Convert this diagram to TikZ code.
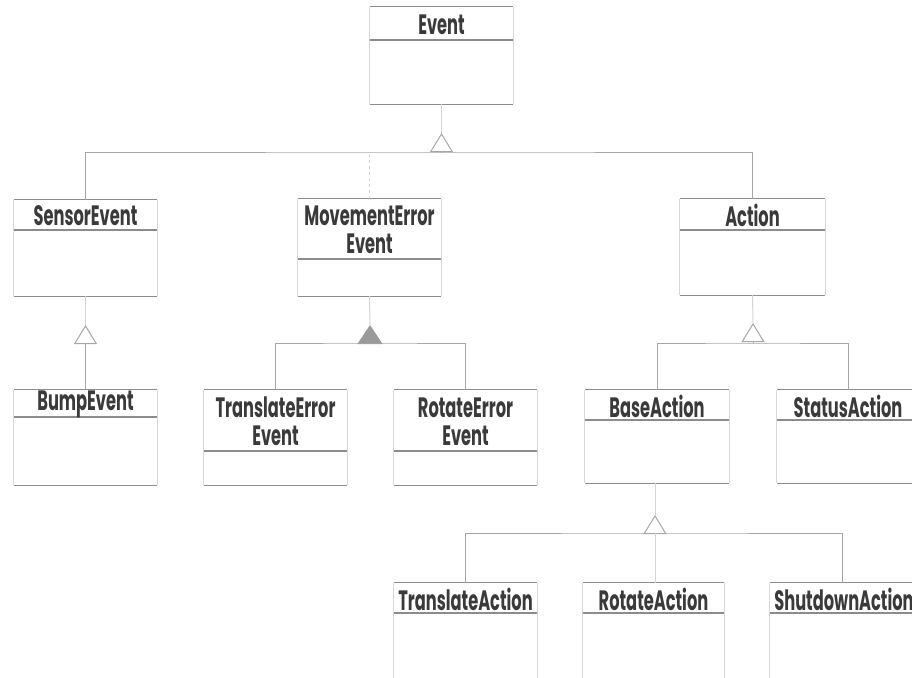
\documentclass[tikz,border=0pt]{standalone}
\usepackage{fontspec}
\setmainfont{Poppins}[FakeStretch=0.58]
\usetikzlibrary{arrows.meta,fit}

\definecolor{rule}{HTML}{8C8C8C}
\definecolor{side}{HTML}{D8D8D8}
\definecolor{wire}{HTML}{A6A6A6}
\definecolor{faintwire}{HTML}{D4D4D4}
\definecolor{ink}{HTML}{3A3A3A}
\definecolor{headfill}{HTML}{9A9A9A}

\tikzset{
  hrule/.style={draw=rule, line width=1.2pt},
  vside/.style={draw=side, line width=0.9pt},
  frame/.style={inner sep=0pt, draw=none},
  classname/.style={font=\fontsize{28}{28}\selectfont\bfseries, text=ink,
                    align=center, inner sep=0pt},
  wireline/.style={draw=wire, line width=1pt},
  faintline/.style={draw=faintwire, line width=1pt},
  inherit/.style={wireline, -{Triangle[open, length=19pt, width=23pt, line width=1pt]}},
  inheritfill/.style={wireline, -{Triangle[length=19pt, width=25pt, fill=headfill, color=headfill]}},
}

% class box: name, left x, right x, top y, separator y, bottom y, title
\newcommand{\umlclass}[7]{%
  \node[frame, fit={(#2,#4) (#3,#6)}] (#1) {};
  \draw[vside] (#1.north west) -- (#1.south west);
  \draw[vside] (#1.north east) -- (#1.south east);
  \draw[hrule] (#1.north west) -- (#1.north east);
  \draw[hrule] (#1.south west) -- (#1.south east);
  \draw[hrule] (#2,#5) -- (#3,#5);
  \node[classname] (#1-title) at ({(#2+#3)/2},{(#4+#5)/2+1}) {#7};
}

\begin{document}
\begin{tikzpicture}[x=1pt, y=-1pt]
  \useasboundingbox (0,0) rectangle (912,677);
  \clip (0,0) rectangle (912,677);

  % classes
  \umlclass{event}{370}{513}{7}{40}{104}{Event}
  \umlclass{sensor}{14}{157}{200}{230}{296}{SensorEvent}
  \umlclass{moveerr}{298}{441}{199}{259}{296}{MovementError\\Event}
  \umlclass{action}{680}{825}{199}{230}{295}{Action}
  \umlclass{bump}{14}{157}{390}{417}{485}{BumpEvent}
  \umlclass{transerr}{204}{347}{390}{451}{485}{TranslateError\\Event}
  \umlclass{roterr}{394}{537}{390}{451}{485}{RotateError\\Event}
  \umlclass{base}{585}{729}{390}{420}{483}{BaseAction}
  \umlclass{status}{777}{919}{390}{420}{483}{StatusAction}
  \umlclass{transact}{394}{537}{583}{613}{700}{TranslateAction}
  \umlclass{rotact}{583}{724}{583}{613}{700}{RotateAction}
  \umlclass{shutact}{770}{918}{583}{613}{700}{ShutdownAction}

  % Event generalization
  \coordinate (evapex) at (441.5,133);
  \coordinate (evbus) at (441.5,152);
  \draw[faintline] (event.south) -- (evapex);
  \draw[inherit] (evbus) -- (evapex);
  \draw[wireline] (sensor.north) |- (evbus) -| (action.north);
  \draw[faintline, dashed] (moveerr.north) -- (moveerr.north |- evbus);

  % SensorEvent generalization
  \coordinate (senapex) at (85.5,325);
  \draw[faintline] (sensor.south) -- (senapex);
  \draw[inherit] (bump.north) -- (senapex);

  % MovementErrorEvent generalization
  \coordinate (mvapex) at (370,325);
  \coordinate (mvbus) at (370,343);
  \draw[faintline] (moveerr.south) -- (mvapex);
  \draw[inheritfill] (mvbus) -- (mvapex);
  \draw[wireline] (transerr.north) |- (mvbus) -| (roterr.north);

  % Action generalization
  \coordinate (acapex) at (753,323);
  \coordinate (acbus) at (753,343);
  \draw[faintline] (action.south) -- (acapex);
  \draw[inherit] (acbus) -- (acapex);
  \draw[wireline] (base.north) |- (acbus) -| (status.north -| 848,0);

  % BaseAction generalization
  \coordinate (baapex) at (655,515);
  \coordinate (babus) at (655,533);
  \draw[faintline] (base.south -| baapex) -- (baapex);
  \draw[inherit] (babus) -- (baapex);
  \draw[wireline] (transact.north) |- (babus) -| (shutact.north -| 842,0);
  \draw[faintline] (babus) -- (babus |- rotact.north);
\end{tikzpicture}
\end{document}
